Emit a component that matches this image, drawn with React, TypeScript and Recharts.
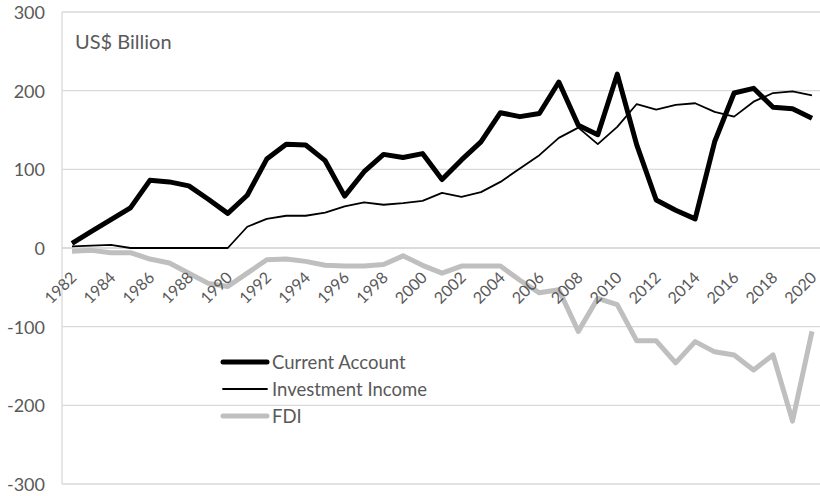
import React from 'react';
import { LineChart, Line, XAxis, YAxis, CartesianGrid, ReferenceLine } from 'recharts';

const years = [
  '1982', '1983', '1984', '1985', '1986', '1987', '1988', '1989', '1990', '1991',
  '1992', '1993', '1994', '1995', '1996', '1997', '1998', '1999', '2000', '2001',
  '2002', '2003', '2004', '2005', '2006', '2007', '2008', '2009', '2010', '2011',
  '2012', '2013', '2014', '2015', '2016', '2017', '2018', '2019', '2020',
];

const currentAccount = [
  6, 21, 36, 51, 86, 84, 79, 62, 44, 67,
  113, 132, 131, 111, 66, 97, 119, 115, 120, 87,
  112, 135, 172, 167, 171, 211, 156, 144, 221, 131,
  61, 48, 37, 135, 197, 203, 179, 177, 165,
];

const investmentIncome = [
  2, 3, 4, 0, 0, 0, 0, 0, 0, 27,
  37, 41, 41, 45, 53, 58, 55, 57, 60, 70,
  65, 71, 84, 101, 118, 140, 153, 132, 154, 183,
  176, 182, 184, 173, 167, 186, 197, 199, 194,
];

const fdi = [
  -4, -3, -6, -6, -14, -19, -32, -45, -49, -32,
  -15, -14, -17, -22, -23, -23, -21, -10, -22, -32,
  -23, -23, -23, -41, -57, -53, -106, -64, -72, -118,
  -118, -146, -119, -132, -136, -155, -136, -220, -106,
];

const yTicks = [-300, -200, -100, 0, 100, 200, 300];

const data = years.map((y, i) => ({
  year: y,
  ca: currentAccount[i],
  ii: investmentIncome[i],
  fdi: fdi[i],
}));

const FONT = 'Lato, "Open Sans", sans-serif';
const TEXT = '#595959';
const GRID = '#d9d9d9';

const W = 822;
const H = 496;
const XH = 12;
const M = { top: 12, right: 0, bottom: 0, left: 0 };
// y of the zero line (domain is symmetric), used to hang the year labels off it
const zeroY = M.top + (H - M.top - M.bottom - XH) / 2;

const renderYearTick = (props: any) => {
  const { x, payload, index } = props;
  if (index % 2 !== 0) return <g />;
  const ax = x + 1;
  const ay = zeroY + 26;
  return (
    <text
      x={ax}
      y={ay}
      transform={`rotate(-45 ${ax} ${ay})`}
      textAnchor="end"
      dominantBaseline="central"
      fill={TEXT}
      fontSize={16}
      fontFamily={FONT}
    >
      {payload.value}
    </text>
  );
};

const renderValueTick = (props: any) => {
  const { y, payload } = props;
  return (
    <text x={45} y={y} textAnchor="end" dominantBaseline="central" fill={TEXT} fontSize={18} fontFamily={FONT}>
      {payload.value}
    </text>
  );
};

const legendItems = [
  { label: 'Current Account', color: '#000000', width: 5 },
  { label: 'Investment Income', color: '#000000', width: 1.8 },
  { label: 'FDI', color: '#bfbfbf', width: 5 },
];

function LegendBox() {
  return (
    <div style={{ position: 'absolute', left: 220, top: 348, fontFamily: FONT, fontSize: 18.5, color: TEXT }}>
      {legendItems.map(it => (
        <div key={it.label} style={{ display: 'flex', alignItems: 'center', height: 27 }}>
          <svg width={50} height={10} style={{ marginRight: 2 }}>
            <line x1={3} x2={47} y1={5} y2={5} stroke={it.color} strokeWidth={it.width} strokeLinecap="round" />
          </svg>
          <span>{it.label}</span>
        </div>
      ))}
    </div>
  );
}

export default function App() {
  return (
    <div style={{ position: 'absolute', left: 0, top: 0, width: 820, height: 496, overflow: 'hidden', background: '#fff' }}>
      <LineChart width={W} height={H} data={data} margin={M}>
        <CartesianGrid vertical={false} stroke={GRID} strokeWidth={1.3} />
        <XAxis
          dataKey="year"
          interval={0}
          height={XH}
          axisLine={false}
          tickLine={false}
          padding={{ left: 10, right: 10 }}
          tick={renderYearTick}
        />
        <YAxis
          domain={[-300, 300]}
          ticks={yTicks}
          width={62}
          axisLine={{ stroke: GRID, strokeWidth: 1.3 }}
          tickLine={false}
          tick={renderValueTick}
        />
        <ReferenceLine y={0} stroke={GRID} strokeWidth={1.3} />
        <Line dataKey="fdi" stroke="#bfbfbf" strokeWidth={5} dot={false} isAnimationActive={false} strokeLinejoin="round" />
        <Line dataKey="ii" stroke="#000000" strokeWidth={1.8} dot={false} isAnimationActive={false} strokeLinejoin="round" />
        <Line dataKey="ca" stroke="#000000" strokeWidth={5} dot={false} isAnimationActive={false} strokeLinejoin="round" />
      </LineChart>
      <LegendBox />
      <div style={{ position: 'absolute', left: 75, top: 29, fontFamily: FONT, fontSize: 20, color: TEXT }}>
        US$ Billion
      </div>
    </div>
  );
}
